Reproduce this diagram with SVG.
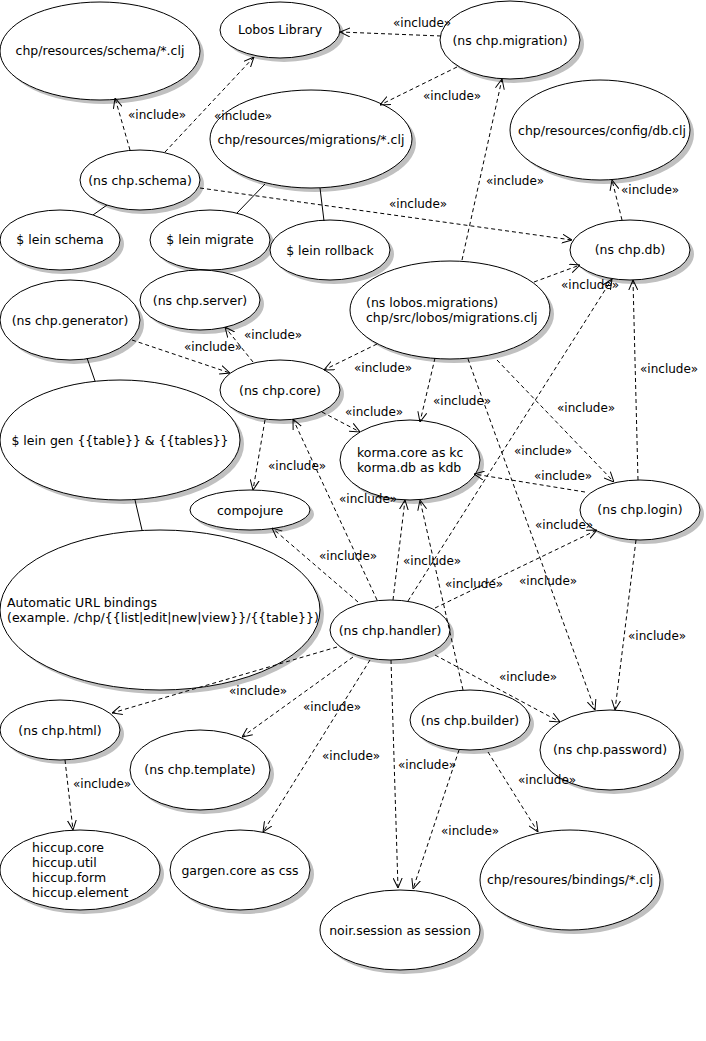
<svg xmlns="http://www.w3.org/2000/svg" width="706" height="1041" viewBox="0 0 706 1041">
<style>
.sh{fill:#c0c0c0;stroke:none}
.el{fill:#fff;stroke:#000;stroke-width:1}
text{font-family:"DejaVu Sans","Noto Sans",sans-serif;font-size:12.5px;fill:#000}
.c{text-anchor:middle}
.d{fill:none;stroke:#000;stroke-width:1;stroke-dasharray:4,3;marker-end:url(#arr)}
.s{fill:none;stroke:#000;stroke-width:1}
.lb{font-size:12px}
</style>
<defs>
<marker id="arr" viewBox="0 0 10 10" refX="10" refY="5" markerWidth="10" markerHeight="10" markerUnits="userSpaceOnUse" orient="auto">
<path d="M0,0.5 L10,5 L0,9.5" fill="none" stroke="#000" stroke-width="1"/>
</marker>
</defs>
<rect width="706" height="1041" fill="#fff"/>

<g id="n-schema-clj"><ellipse class="sh" cx="104" cy="55" rx="100" ry="49"/><ellipse class="el" cx="100" cy="51" rx="100" ry="49"/><text class="c" x="100" y="55">chp/resources/schema/*.clj</text></g>
<g id="n-lobos-lib"><ellipse class="sh" cx="284" cy="34" rx="60" ry="28"/><ellipse class="el" cx="280" cy="30" rx="60" ry="28"/><text class="c" x="280" y="34">Lobos Library</text></g>
<g id="n-migration"><ellipse class="sh" cx="514" cy="44" rx="70" ry="39"/><ellipse class="el" cx="510" cy="40" rx="70" ry="39"/><text class="c" x="510" y="45">(ns chp.migration)</text></g>
<g id="n-migrations-clj"><ellipse class="sh" cx="315" cy="143" rx="101" ry="49"/><ellipse class="el" cx="311" cy="139" rx="101" ry="49"/><text class="c" x="311" y="144">chp/resources/migrations/*.clj</text></g>
<g id="n-config"><ellipse class="sh" cx="604" cy="134" rx="90" ry="50"/><ellipse class="el" cx="600" cy="130" rx="90" ry="50"/><text class="c" x="602" y="135">chp/resources/config/db.clj</text></g>
<g id="n-schema"><ellipse class="sh" cx="144" cy="184" rx="60" ry="30"/><ellipse class="el" cx="140" cy="180" rx="60" ry="30"/><text class="c" x="140" y="185">(ns chp.schema)</text></g>
<g id="n-lein-schema"><ellipse class="sh" cx="64" cy="244" rx="60" ry="30"/><ellipse class="el" cx="60" cy="240" rx="60" ry="30"/><text class="c" x="60" y="244">$ lein schema</text></g>
<g id="n-lein-migrate"><ellipse class="sh" cx="214" cy="244" rx="60" ry="30"/><ellipse class="el" cx="210" cy="240" rx="60" ry="30"/><text class="c" x="210" y="244">$ lein migrate</text></g>
<g id="n-lein-rollback"><ellipse class="sh" cx="334" cy="254" rx="60" ry="30"/><ellipse class="el" cx="330" cy="250" rx="60" ry="30"/><text class="c" x="330" y="255">$ lein rollback</text></g>
<g id="n-db"><ellipse class="sh" cx="634" cy="254" rx="60" ry="30"/><ellipse class="el" cx="630" cy="250" rx="60" ry="30"/><text class="c" x="630" y="254">(ns chp.db)</text></g>
<g id="n-server"><ellipse class="sh" cx="204" cy="304" rx="60" ry="30"/><ellipse class="el" cx="200" cy="300" rx="60" ry="30"/><text class="c" x="200" y="305">(ns chp.server)</text></g>
<g id="n-generator"><ellipse class="sh" cx="74" cy="324" rx="70" ry="40"/><ellipse class="el" cx="70" cy="320" rx="70" ry="40"/><text class="c" x="70" y="325">(ns chp.generator)</text></g>
<g id="n-lobos-migrations"><ellipse class="sh" cx="454" cy="314" rx="100" ry="49"/><ellipse class="el" cx="450" cy="310" rx="100" ry="49"/><text x="366" y="307">(ns lobos.migrations)</text><text x="366" y="322">chp/src/lobos/migrations.clj</text></g>
<g id="n-core"><ellipse class="sh" cx="284" cy="394" rx="60" ry="30"/><ellipse class="el" cx="280" cy="390" rx="60" ry="30"/><text class="c" x="280" y="395">(ns chp.core)</text></g>
<g id="n-lein-gen"><ellipse class="sh" cx="124" cy="444" rx="120" ry="60"/><ellipse class="el" cx="120" cy="440" rx="120" ry="60"/><text class="c" x="120" y="445">$ lein gen {{table}} &amp; {{tables}}</text></g>
<g id="n-korma"><ellipse class="sh" cx="414" cy="464" rx="70" ry="40"/><ellipse class="el" cx="410" cy="460" rx="70" ry="40"/><text x="357" y="457">korma.core as kc</text><text x="357" y="472">korma.db as kdb</text></g>
<g id="n-compojure"><ellipse class="sh" cx="254" cy="514" rx="60" ry="20"/><ellipse class="el" cx="250" cy="510" rx="60" ry="20"/><text class="c" x="250" y="515">compojure</text></g>
<g id="n-login"><ellipse class="sh" cx="644" cy="514" rx="60" ry="30"/><ellipse class="el" cx="640" cy="510" rx="60" ry="30"/><text class="c" x="640" y="514">(ns chp.login)</text></g>
<g id="n-url"><ellipse class="sh" cx="164" cy="614" rx="160" ry="80"/><ellipse class="el" cx="160" cy="610" rx="160" ry="80"/><text x="7" y="607">Automatic URL bindings</text><text x="7" y="622">(example. /chp/{{list|edit|new|view}}/{{table}})</text></g>
<g id="n-handler"><ellipse class="sh" cx="394" cy="634" rx="60" ry="30"/><ellipse class="el" cx="390" cy="630" rx="60" ry="30"/><text class="c" x="390" y="635">(ns chp.handler)</text></g>
<g id="n-html"><ellipse class="sh" cx="64" cy="734" rx="60" ry="30"/><ellipse class="el" cx="60" cy="730" rx="60" ry="30"/><text class="c" x="60" y="735">(ns chp.html)</text></g>
<g id="n-template"><ellipse class="sh" cx="204" cy="774" rx="70" ry="40"/><ellipse class="el" cx="200" cy="770" rx="70" ry="40"/><text class="c" x="200" y="774">(ns chp.template)</text></g>
<g id="n-builder"><ellipse class="sh" cx="474" cy="724" rx="60" ry="30"/><ellipse class="el" cx="470" cy="720" rx="60" ry="30"/><text class="c" x="470" y="725">(ns chp.builder)</text></g>
<g id="n-password"><ellipse class="sh" cx="614" cy="754" rx="70" ry="40"/><ellipse class="el" cx="610" cy="750" rx="70" ry="40"/><text class="c" x="610" y="754">(ns chp.password)</text></g>
<g id="n-hiccup"><ellipse class="sh" cx="84" cy="874" rx="80" ry="40"/><ellipse class="el" cx="80" cy="870" rx="80" ry="40"/><text x="32" y="852">hiccup.core</text><text x="32" y="867">hiccup.util</text><text x="32" y="882">hiccup.form</text><text x="32" y="897">hiccup.element</text></g>
<g id="n-gargen"><ellipse class="sh" cx="244" cy="874" rx="70" ry="40"/><ellipse class="el" cx="240" cy="870" rx="70" ry="40"/><text class="c" x="240" y="875">gargen.core as css</text></g>
<g id="n-noir"><ellipse class="sh" cx="404" cy="934" rx="80" ry="40"/><ellipse class="el" cx="400" cy="930" rx="80" ry="40"/><text class="c" x="400" y="935">noir.session as session</text></g>
<g id="n-bindings"><ellipse class="sh" cx="574" cy="884" rx="90" ry="50"/><ellipse class="el" cx="570" cy="880" rx="90" ry="50"/><text class="c" x="570" y="884">chp/resoures/bindings/*.clj</text></g>

<g id="connectors">
<line class="s" x1="107" y1="205" x2="93" y2="215"/>
<line class="s" x1="265" y1="184" x2="237" y2="213"/>
<line class="s" x1="320" y1="188" x2="324" y2="221"/>
<line class="s" x1="87" y1="358" x2="95" y2="381"/>
<line class="s" x1="135" y1="500" x2="142" y2="530"/>

<line class="d" x1="441" y1="36" x2="340" y2="32"/>
<line class="d" x1="457" y1="67" x2="380" y2="105"/>
<line class="d" x1="130" y1="150" x2="115" y2="98"/>
<line class="d" x1="165" y1="152" x2="254" y2="57"/>
<line class="d" x1="200" y1="188" x2="572" y2="240"/>
<line class="d" x1="622" y1="220" x2="612" y2="180"/>
<line class="d" x1="462" y1="260" x2="502" y2="79"/>
<line class="d" x1="534" y1="282" x2="580" y2="265"/>
<line class="d" x1="253" y1="362" x2="225" y2="327"/>
<line class="d" x1="132" y1="340" x2="230" y2="373"/>
<line class="d" x1="377" y1="344" x2="324" y2="370"/>
<line class="d" x1="322" y1="412" x2="360" y2="432"/>
<line class="d" x1="435" y1="358" x2="420" y2="422"/>
<line class="d" x1="265" y1="420" x2="253" y2="490"/>
<line class="d" x1="497" y1="360" x2="614" y2="482"/>
<line class="d" x1="638" y1="480" x2="633" y2="280"/>
<line class="d" x1="408" y1="601" x2="612" y2="279"/>
<line class="d" x1="468" y1="359" x2="595" y2="710"/>
<line class="d" x1="585" y1="492" x2="474" y2="474"/>
<line class="d" x1="377" y1="600" x2="293" y2="419"/>
<line class="d" x1="393" y1="600" x2="405" y2="500"/>
<line class="d" x1="463" y1="690" x2="420" y2="500"/>
<line class="d" x1="358" y1="602" x2="272" y2="528"/>
<line class="d" x1="435" y1="608" x2="597" y2="530"/>
<line class="d" x1="435" y1="655" x2="560" y2="722"/>
<line class="d" x1="636" y1="540" x2="615" y2="710"/>
<line class="d" x1="337" y1="647" x2="112" y2="713"/>
<line class="d" x1="353" y1="657" x2="242" y2="737"/>
<line class="d" x1="370" y1="660" x2="263" y2="832"/>
<line class="d" x1="391" y1="660" x2="398" y2="888"/>
<line class="d" x1="459" y1="750" x2="413" y2="889"/>
<line class="d" x1="488" y1="752" x2="538" y2="832"/>
<line class="d" x1="65" y1="760" x2="73" y2="830"/>

<g class="labels">
<text class="lb" x="393" y="27">«include»</text>
<text class="lb" x="423" y="100">«include»</text>
<text class="lb" x="128" y="119">«include»</text>
<text class="lb" x="214" y="120">«include»</text>
<text class="lb" x="486" y="185">«include»</text>
<text class="lb" x="621" y="194">«include»</text>
<text class="lb" x="389" y="208">«include»</text>
<text class="lb" x="561" y="289">«include»</text>
<text class="lb" x="244" y="339">«include»</text>
<text class="lb" x="184" y="351">«include»</text>
<text class="lb" x="354" y="372">«include»</text>
<text class="lb" x="640" y="373">«include»</text>
<text class="lb" x="433" y="405">«include»</text>
<text class="lb" x="345" y="416">«include»</text>
<text class="lb" x="557" y="412">«include»</text>
<text class="lb" x="268" y="470">«include»</text>
<text class="lb" x="514" y="455">«include»</text>
<text class="lb" x="534" y="480">«include»</text>
<text class="lb" x="339" y="503">«include»</text>
<text class="lb" x="319" y="560">«include»</text>
<text class="lb" x="403" y="565">«include»</text>
<text class="lb" x="535" y="529">«include»</text>
<text class="lb" x="445" y="588">«include»</text>
<text class="lb" x="519" y="585">«include»</text>
<text class="lb" x="628" y="640">«include»</text>
<text class="lb" x="499" y="681">«include»</text>
<text class="lb" x="229" y="695">«include»</text>
<text class="lb" x="303" y="711">«include»</text>
<text class="lb" x="322" y="760">«include»</text>
<text class="lb" x="398" y="769">«include»</text>
<text class="lb" x="518" y="784">«include»</text>
<text class="lb" x="73" y="788">«include»</text>
<text class="lb" x="441" y="835">«include»</text>
</g>
</g>
</svg>
